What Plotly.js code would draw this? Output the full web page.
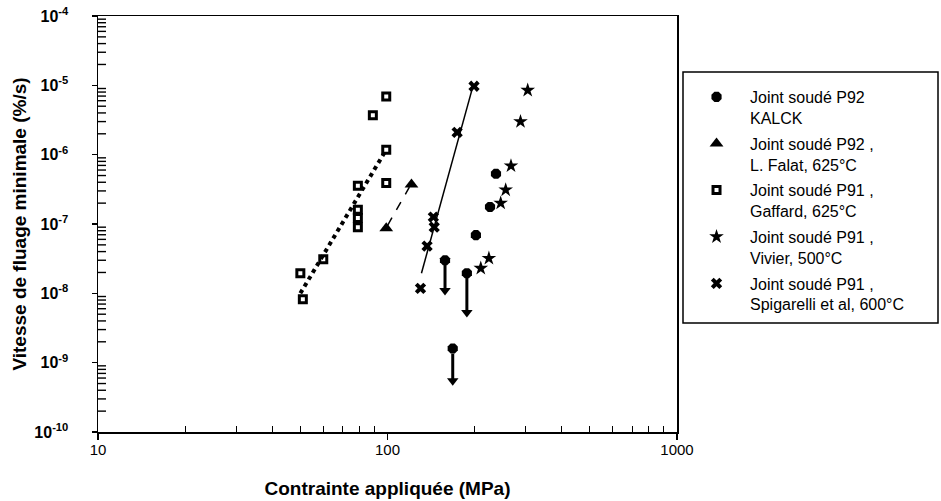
<!DOCTYPE html>
<html>
<head>
<meta charset="utf-8">
<script src="https://cdn.plot.ly/plotly-3.0.1.min.js"></script>
<style>html,body{margin:0;padding:0;background:#fff;}#chart{width:941px;height:501px;}</style>
</head>
<body>
<div id="chart"></div>
<script>
// Joint soudé P92 KALCK
const kalckX = [237, 226, 202, 158, 188, 168];
const kalckY = [5.3e-7, 1.76e-7, 6.9e-8, 3.0e-8, 1.95e-8, 1.6e-9];
// runout arrows (KALCK)
const arrowX = [158, 188, 168];
const arrowFrom = [2.6e-8, 1.7e-8, 1.35e-9];
const arrowTo = [1.1e-8, 5.3e-9, 5.5e-10];
// Joint soudé P92, L. Falat, 625°C
const falatX = [99, 121];
const falatY = [8.7e-8, 3.7e-7];
const falatFitX = [100, 119];
const falatFitY = [9.5e-8, 3.4e-7];
// Joint soudé P91, Gaffard, 625°C
const gaffardX = [99, 89, 99, 99, 79, 79, 79, 79, 60, 50, 51];
const gaffardY = [6.9e-6, 3.7e-6, 1.18e-6, 3.9e-7, 3.55e-7, 1.6e-7, 1.22e-7, 9.0e-8, 3.1e-8, 1.95e-8, 8.2e-9];
const gaffardFitX = [50, 98];
const gaffardFitY = [1.0e-8, 1.1e-6];
// Joint soudé P91, Vivier, 500°C
const vivierX = [305, 288, 267, 256, 246, 224, 210];
const vivierY = [8.5e-6, 3.0e-6, 6.9e-7, 3.1e-7, 2.0e-7, 3.2e-8, 2.3e-8];
// Joint soudé P91, Spigarelli et al, 600°C
const spigX = [199, 174, 144, 145, 137, 130];
const spigY = [9.7e-6, 2.1e-6, 1.26e-7, 9.0e-8, 4.8e-8, 1.18e-8];
const spigFitX = [131, 197];
const spigFitY = [1.95e-8, 9.5e-6];

const seriesNames = [
  "Joint soudé P92<br>KALCK",
  "Joint soudé P92 ,<br>L. Falat, 625°C",
  "Joint soudé P91 ,<br>Gaffard, 625°C",
  "Joint soudé P91 ,<br>Vivier, 500°C",
  "Joint soudé P91 ,<br>Spigarelli et al, 600°C"
];
const xTickVals = [10, 100, 1000];
const xTickText = ["10", "100", "1000"];
const yTickVals = [1e-10, 1e-9, 1e-8, 1e-7, 1e-6, 1e-5, 1e-4];
const yTickExp = ["-10", "-9", "-8", "-7", "-6", "-5", "-4"];
const minorMultipliers = [2, 3, 4, 5, 6, 7, 8, 9];

// minor tick positions (2..9 within each decade)
const xMinor = [];
xTickVals.slice(0, -1).forEach(d => minorMultipliers.forEach(m => xMinor.push(d * m)));
// y minor ticks as fractions of the plot height (log scale -10 .. -4)
const yMinorFrac = [];
yTickExp.slice(0, -1).forEach(e => minorMultipliers.forEach(m => yMinorFrac.push((Number(e) + Math.log10(m) + 10) / 6)));

const traces = [];
// fit lines / arrows (no legend)
traces.push({x: gaffardFitX, y: gaffardFitY, mode: "lines", showlegend: false, hoverinfo: "skip",
  line: {color: "#000", width: 4, dash: "dot"}});
traces.push({x: falatFitX, y: falatFitY, mode: "lines", showlegend: false, hoverinfo: "skip",
  line: {color: "#000", width: 1.5, dash: "dash"}});
traces.push({x: spigFitX, y: spigFitY, mode: "lines", showlegend: false, hoverinfo: "skip",
  line: {color: "#000", width: 1.5}});
arrowX.forEach((ax, i) => {
  traces.push({x: [ax, ax], y: [arrowFrom[i], arrowTo[i]], mode: "lines", showlegend: false, hoverinfo: "skip",
    line: {color: "#000", width: 3}});
  traces.push({x: [ax], y: [arrowTo[i]], mode: "markers", showlegend: false, hoverinfo: "skip",
    marker: {symbol: "triangle-down", size: 10, color: "#000"}});
});

traces.push({x: kalckX, y: kalckY, mode: "markers", name: seriesNames[0], legendgroup: "a",
  marker: {symbol: "octagon", size: 11, color: "#000"}});
traces.push({x: falatX, y: falatY, mode: "markers", name: seriesNames[1], legendgroup: "b",
  marker: {symbol: "triangle-up", size: 12, color: "#000"}});
traces.push({x: gaffardX, y: gaffardY, mode: "markers", name: seriesNames[2], legendgroup: "c",
  marker: {symbol: "square-open", size: 7, color: "#000", line: {width: 3, color: "#000"}}});
traces.push({x: vivierX, y: vivierY, mode: "markers", name: seriesNames[3], legendgroup: "d",
  marker: {symbol: "star", size: 11, color: "#000"}});
traces.push({x: spigX, y: spigY, mode: "markers", name: seriesNames[4], legendgroup: "e",
  marker: {symbol: "x", size: 10, color: "#000"}});

const shapes = [{type: "rect", xref: "paper", yref: "paper",
  x0: (683 - 98) / 579, x1: (938 - 98) / 579, y0: (432 - 323) / 416, y1: (432 - 72) / 416,
  line: {color: "#000", width: 1.5}}];
yMinorFrac.forEach(f => shapes.push({type: "line", xref: "paper", yref: "paper", layer: "above",
  x0: 0, x1: 8 / 579, y0: f, y1: f, line: {color: "#000", width: 1.4}}));

const font = "Liberation Sans, Arial, sans-serif";
const layout = {
  width: 941, height: 501,
  margin: {l: 98, r: 264, t: 16, b: 69},
  paper_bgcolor: "#fff", plot_bgcolor: "#fff",
  font: {family: font, color: "#000"},
  showlegend: true,
  legend: {
    x: 1.0104, xanchor: "left", y: (432 - 80) / 416, yanchor: "top",
    bgcolor: "rgba(0,0,0,0)", borderwidth: 0,
    font: {family: font, size: 16, color: "#000"},
    valign: "top", itemwidth: 57, traceorder: "grouped", tracegroupgap: 2
  },
  shapes: shapes,
  xaxis: {
    type: "log", range: [1, 3], showgrid: false, zeroline: false,
    showline: true, linecolor: "#000", linewidth: 1.5, mirror: true,
    ticks: "outside", ticklen: 6, tickcolor: "#000", tickwidth: 1.2,
    tickvals: xTickVals, ticktext: xTickText,
    tickfont: {family: font, size: 15},
    ticklabelstandoff: -3,
    minor: {tickmode: "array", tickvals: xMinor, ticks: "inside", ticklen: 6, tickcolor: "#000", tickwidth: 1, showgrid: false},
    title: {text: "Contrainte appliquée (MPa)", font: {family: font, size: 19, weight: "bold"}, standoff: 25}
  },
  yaxis: {
    type: "log", range: [-10, -4], showgrid: false, zeroline: false,
    showline: true, linecolor: "#000", linewidth: 1.5, mirror: true,
    ticks: "outside", ticklen: 5, tickcolor: "#000", tickwidth: 1.2,
    tickvals: yTickVals, ticktext: yTickExp.map(e => "<b>10<sup>" + e + "</sup></b>"),
    tickfont: {family: font, size: 16},
    ticklabelstandoff: 20,
    title: {text: "Vitesse de fluage minimale (%/s)", font: {family: font, size: 19, weight: "bold"}, standoff: 2}
  }
};
Plotly.newPlot("chart", traces, layout, {displayModeBar: false, staticPlot: true});
</script>
</body>
</html>
